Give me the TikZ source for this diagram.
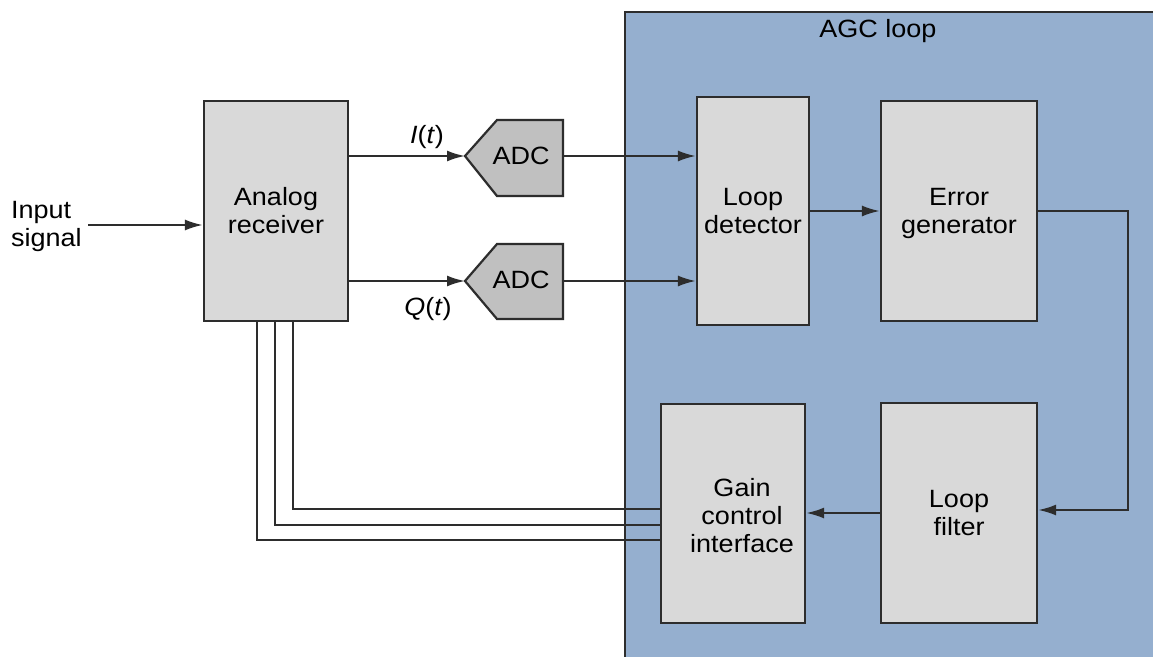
\documentclass[tikz,border=0pt]{standalone}
\usepackage{fontspec}
\setmainfont{Liberation Sans}[FakeStretch=1.08]
\usetikzlibrary{arrows.meta}
\definecolor{agcblue}{RGB}{149,175,207}
\definecolor{boxgray}{RGB}{217,217,217}
\definecolor{adcgray}{RGB}{192,192,192}
\definecolor{edge}{RGB}{45,45,45}
\tikzset{
  blockbox/.style={draw=edge, line width=2.2pt, fill=boxgray, inner sep=0pt, align=center,
    font=\fontsize{25}{28}\selectfont},
  lbl/.style={inner sep=0pt, font=\fontsize{25}{28}\selectfont, align=center},
  conn/.style={draw=edge, line width=2.2pt, -{Latex[length=18pt,width=11pt]}},
  plain/.style={draw=edge, line width=2.2pt}
}
\begin{document}
\begin{tikzpicture}[x=1pt,y=-1pt]
\useasboundingbox (0,0) rectangle (1153,656);
\fill[white] (0,0) rectangle (1153,656);
% AGC loop region
\filldraw[fill=agcblue, draw=edge, line width=2.2pt] (625,660) -- (625,12) -- (1158,12) -- (1158,660);
\node[lbl] (agc) at (878,31) {AGC loop};
% blocks
\node[blockbox, minimum width=144pt, minimum height=220pt] (ar) at (276,211) {Analog\\receiver};
\node[blockbox, minimum width=112pt, minimum height=228pt] (ld) at (753,211) {Loop\\detector};
\node[blockbox, minimum width=156pt, minimum height=220pt] (eg) at (959,211) {};
\node[lbl] (egt) at (959,213) {Error\\generator};
\node[blockbox, minimum width=156pt, minimum height=220pt] (lf) at (959,513) {Loop\\filter};
\node[blockbox, minimum width=144pt, minimum height=219pt] (gc) at (733,513.5) {};
\node[lbl] (gct) at (742,516) {Gain\\control\\interface};
% ADCs
\filldraw[fill=adcgray, draw=edge, line width=2.2pt] (465,156) -- (497,120) -- (563,120) -- (563,196) -- (497,196) -- cycle;
\node[lbl] (adc1) at (521,156) {ADC};
\filldraw[fill=adcgray, draw=edge, line width=2.2pt] (465,281) -- (497,244) -- (563,244) -- (563,319) -- (497,319) -- cycle;
\node[lbl] (adc2) at (521,280) {ADC};
\coordinate (a1in) at (465,156);
\coordinate (a1out) at (563,156);
\coordinate (a2in) at (465,281);
\coordinate (a2out) at (563,281);
% input
\node[lbl, align=left, anchor=west] (inp) at (11,226) {Input\\signal};
\draw[conn] (88,225) -- (ar.west |- 0,225);
% I/Q
\draw[conn] (ar.east |- a1in) -- (a1in);
\draw[conn] (ar.east |- a2in) -- (a2in);
\node[lbl] (it) at (427,137) {\textit{I}(\textit{t})};
\node[lbl] (qt) at (428,309) {\textit{Q}(\textit{t})};
\draw[conn] (a1out) -- (ld.west |- a1out);
\draw[conn] (a2out) -- (ld.west |- a2out);
% loop
\draw[conn] (ld.east |- 0,211) -- (eg.west |- 0,211);
\draw[conn] (eg.east |- 0,211) -- (1128,211) -- (1128,510) -- (lf.east |- 0,510);
\draw[conn] (lf.west |- 0,513) -- (gc.east |- 0,513);
% control lines
\draw[plain] (ar.south -| 293,0) -- (293,509) -- (gc.west |- 0,509);
\draw[plain] (ar.south -| 275,0) -- (275,525) -- (gc.west |- 0,525);
\draw[plain] (ar.south -| 257,0) -- (257,540) -- (gc.west |- 0,540);
\end{tikzpicture}
\end{document}
